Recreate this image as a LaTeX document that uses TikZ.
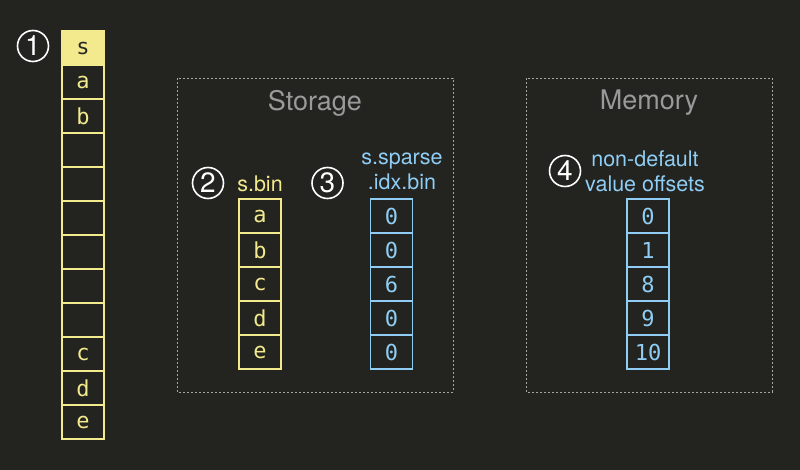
\documentclass[tikz,border=0pt]{standalone}
\usepackage{fontspec}
\setmainfont{TeX Gyre Heros}
\newfontfamily\cellfont{DejaVu Sans Mono}
\definecolor{bg}{HTML}{232320}
\definecolor{yl}{HTML}{F2EA8C}
\definecolor{bl}{HTML}{8FCDF4}
\definecolor{gr}{HTML}{9A9A9A}
\definecolor{dk}{HTML}{2A2A25}
\newcommand{\cf}        {\cellfont\fontsize{22}{24}\selectfont}
\newcommand{\lf}        {\fontsize{21.5}{25}\selectfont}
\newcommand{\tf}        {\fontsize{27}{30}\selectfont}
\newcommand{\nf}        {\fontsize{28}{28}\selectfont}

\tikzset{
  cell/.style={draw,line width=1.2pt,minimum width=42pt,minimum height=34pt,inner sep=0pt,font=\cf},
  ycell/.style={cell,draw=yl,text=yl},
  bcell/.style={cell,draw=bl,text=bl},
  num/.style={circle,draw=white,line width=1.6pt,minimum size=31pt,text=white,font=\nf,inner sep=0pt},
  lbl/.style={font=\lf,align=center,inner sep=0pt},
  ttl/.style={font=\tf,text=gr,inner sep=0pt},
  box/.style={draw=gray!70,line width=0.8pt,dash pattern=on 2pt off 2pt}
}

\begin{document}
\begin{tikzpicture}[x=1pt,y=-1pt]
   \fill[bg] (0,0) rectangle (800,470);
   \begin{scope}
    \draw(33,46) node[num] (n1) {1};
    \draw(83,48) node[ycell,fill=yl,text=dk] (c1) {s};
    \draw(83,82) node[ycell] (c2) {a};
    \draw(83,116) node[ycell] (c3) {b};
    \draw(83,150) node[ycell] (c4) {};
    \draw(83,184) node[ycell] (c5) {};
    \draw(83,218) node[ycell] (c6) {};
    \draw(83,252) node[ycell] (c7) {};
    \draw(83,286) node[ycell] (c8) {};
    \draw(83,320) node[ycell] (c9) {};
    \draw(83,354) node[ycell] (c10) {c};
    \draw(83,388) node[ycell] (c11) {d};
    \draw(83,422) node[ycell] (c12) {e};
   \end{scope}
   \begin{scope}
    \draw[box] (177,78) rectangle (453,392);
    \draw(315,103) node[ttl] (st) {Storage};
    \draw(208,183) node[num] (n2) {2};
    \draw(260,184) node[lbl,text=yl] (sb) {s.bin};
    \draw(327.5,183) node[num] (n3) {3};
    \draw(402,171) node[lbl,text=bl] (sp) {s.sparse\\.idx.bin};
    \draw(260,216) node[ycell] (b1) {a};
    \draw(260,250) node[ycell] (b2) {b};
    \draw(260,284) node[ycell] (b3) {c};
    \draw(260,318) node[ycell] (b4) {d};
    \draw(260,352) node[ycell] (b5) {e};
    \draw(391.5,216) node[bcell] (i1) {0};
    \draw(391.5,250) node[bcell] (i2) {0};
    \draw(391.5,284) node[bcell] (i3) {6};
    \draw(391.5,318) node[bcell] (i4) {0};
    \draw(391.5,352) node[bcell] (i5) {0};
   \end{scope}
   \begin{scope}
    \draw[box] (526,78) rectangle (772,392);
    \draw(649,103) node[ttl] (me) {Memory};
    \draw(565,171) node[num] (n4) {4};
    \draw(645,171) node[lbl,text=bl] (of) {non-default\\value offsets};
    \draw(648,216) node[bcell] (m1) {0};
    \draw(648,250) node[bcell] (m2) {1};
    \draw(648,284) node[bcell] (m3) {8};
    \draw(648,318) node[bcell] (m4) {9};
    \draw(648,352) node[bcell] (m5) {10};
   \end{scope}
\end{tikzpicture}
\end{document}
